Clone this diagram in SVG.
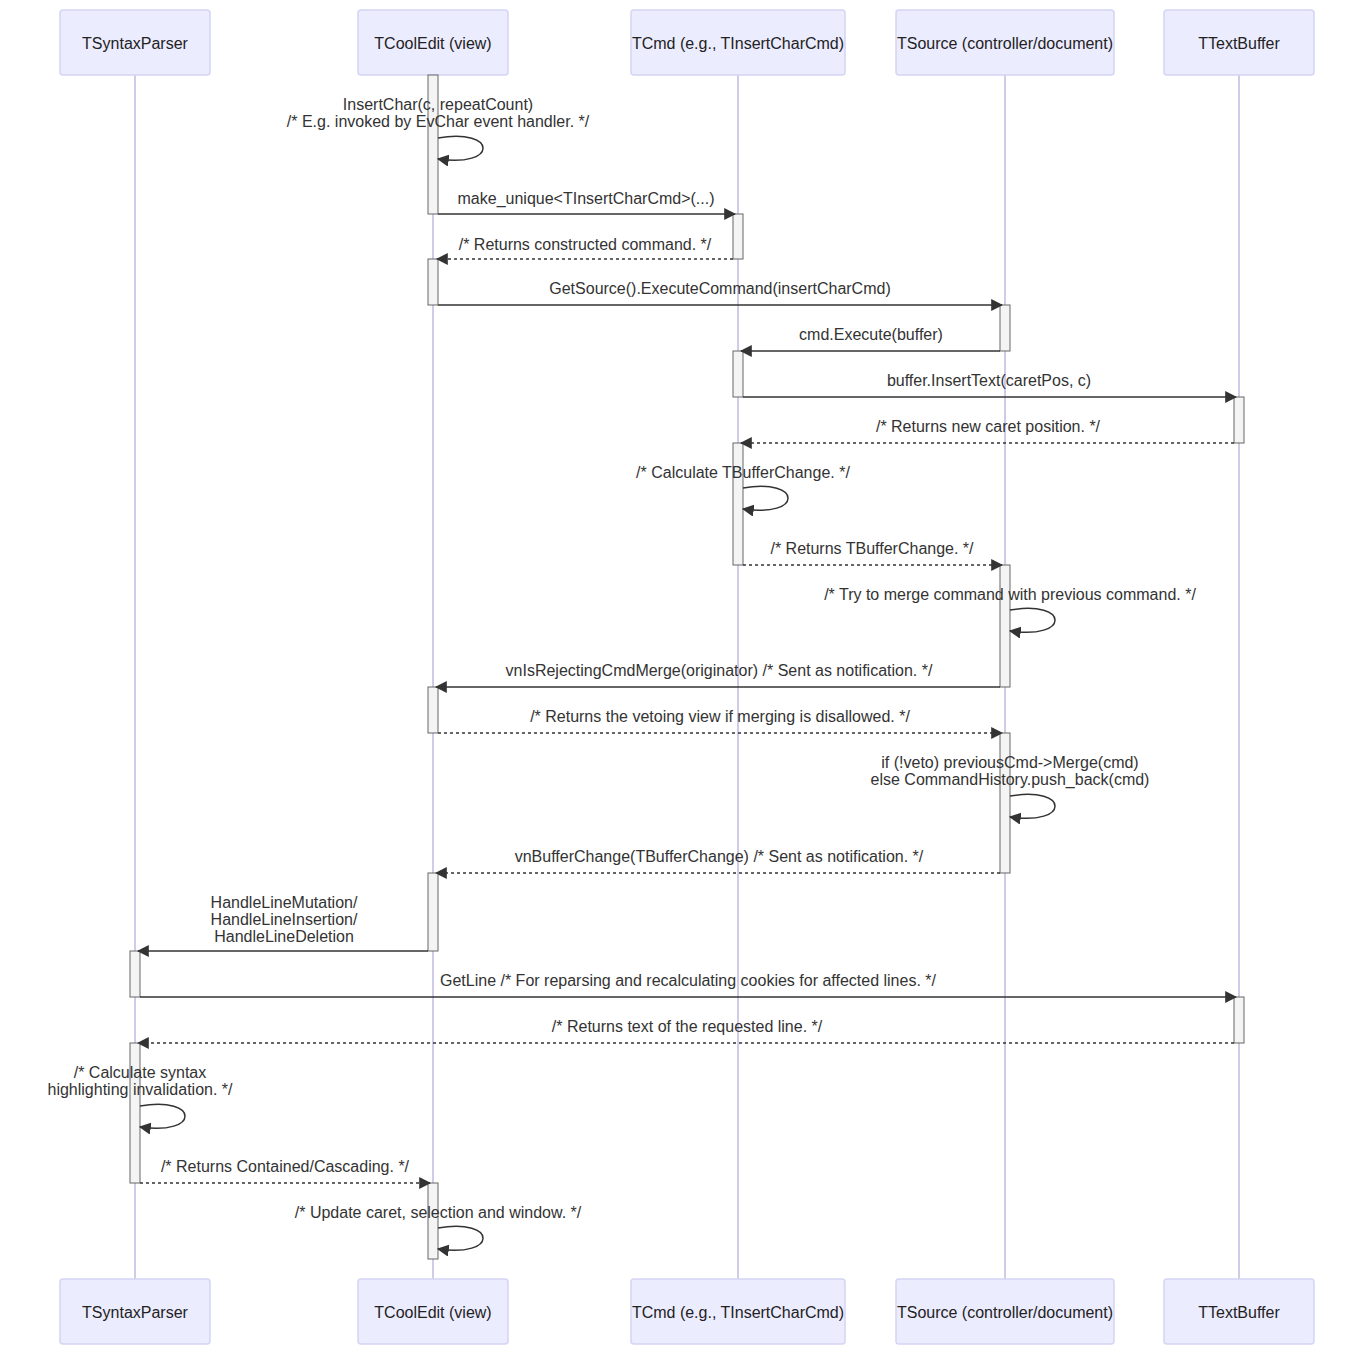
<svg xmlns="http://www.w3.org/2000/svg" width="1365" height="1355" viewBox="0 0 1365 1355">
<style>
.box{fill:#ECECFF;stroke:#D4D4F5;stroke-width:1.5}
.life{stroke:#D0CCE8;stroke-width:2}
.act{fill:#F4F4F4;stroke:#666;stroke-width:1}
.t{font-family:"Liberation Sans",Arial,sans-serif;font-size:16px;fill:#333;text-anchor:middle}
.nm{font-family:"Liberation Sans",Arial,sans-serif;font-size:16px;fill:#222;text-anchor:middle}
.m{stroke:#333;stroke-width:1.5;fill:none;marker-end:url(#ah)}
.d{stroke-dasharray:3,3}
</style>
<defs><marker id="ah" viewBox="0 0 10 10" refX="9" refY="5" markerWidth="8" markerHeight="8" orient="auto"><path d="M0,0L10,5L0,10z" fill="#333"/></marker></defs>
<rect width="1365" height="1355" fill="#fff"/>
<g id="lifelines">
<line class="life" x1="135" y1="75" x2="135" y2="1279"/>
<line class="life" x1="433" y1="75" x2="433" y2="1279"/>
<line class="life" x1="738" y1="75" x2="738" y2="1279"/>
<line class="life" x1="1005" y1="75" x2="1005" y2="1279"/>
<line class="life" x1="1239" y1="75" x2="1239" y2="1279"/>
</g>
<g id="TSyntaxParser"><rect class="box" x="60" y="10" width="150" height="65" rx="3"/><text class="nm" x="135" y="49">TSyntaxParser</text><rect class="box" x="60" y="1279" width="150" height="65" rx="3"/><text class="nm" x="135" y="1318">TSyntaxParser</text></g>
<g id="TCoolEdit"><rect class="box" x="358" y="10" width="150" height="65" rx="3"/><text class="nm" x="433" y="49">TCoolEdit (view)</text><rect class="box" x="358" y="1279" width="150" height="65" rx="3"/><text class="nm" x="433" y="1318">TCoolEdit (view)</text></g>
<g id="TCmd"><rect class="box" x="631" y="10" width="214" height="65" rx="3"/><text class="nm" x="738" y="49">TCmd (e.g., TInsertCharCmd)</text><rect class="box" x="631" y="1279" width="214" height="65" rx="3"/><text class="nm" x="738" y="1318">TCmd (e.g., TInsertCharCmd)</text></g>
<g id="TSource"><rect class="box" x="896" y="10" width="218" height="65" rx="3"/><text class="nm" x="1005" y="49">TSource (controller/document)</text><rect class="box" x="896" y="1279" width="218" height="65" rx="3"/><text class="nm" x="1005" y="1318">TSource (controller/document)</text></g>
<g id="TTextBuffer"><rect class="box" x="1164" y="10" width="150" height="65" rx="3"/><text class="nm" x="1239" y="49">TTextBuffer</text><rect class="box" x="1164" y="1279" width="150" height="65" rx="3"/><text class="nm" x="1239" y="1318">TTextBuffer</text></g>
<g id="activations">
<rect class="act" x="428" y="75" width="10" height="139"/>
<rect class="act" x="733" y="214" width="10" height="45"/>
<rect class="act" x="428" y="259" width="10" height="46"/>
<rect class="act" x="1000" y="305" width="10" height="46"/>
<rect class="act" x="733" y="351" width="10" height="46"/>
<rect class="act" x="1234" y="397" width="10" height="46"/>
<rect class="act" x="733" y="443" width="10" height="122"/>
<rect class="act" x="1000" y="565" width="10" height="122"/>
<rect class="act" x="428" y="687" width="10" height="46"/>
<rect class="act" x="1000" y="733" width="10" height="140"/>
<rect class="act" x="428" y="873" width="10" height="78"/>
<rect class="act" x="130" y="951" width="10" height="46"/>
<rect class="act" x="1234" y="997" width="10" height="46"/>
<rect class="act" x="130" y="1043" width="10" height="140"/>
<rect class="act" x="428" y="1183" width="10" height="76"/>
</g>
<g id="connectors">
<path class="m" d="M438,138 C498,128 498,168 438,159"/>
<line class="m" x1="438" y1="214" x2="735" y2="214"/>
<line class="m d" x1="733" y1="259" x2="437" y2="259"/>
<line class="m" x1="438" y1="305" x2="1002" y2="305"/>
<line class="m" x1="1000" y1="351" x2="741" y2="351"/>
<line class="m" x1="743" y1="397" x2="1236" y2="397"/>
<line class="m d" x1="1234" y1="443" x2="741" y2="443"/>
<path class="m" d="M743,488 C803,478 803,518 743,509"/>
<line class="m d" x1="743" y1="565" x2="1002" y2="565"/>
<path class="m" d="M1010,610 C1070,600 1070,640 1010,631"/>
<line class="m" x1="1000" y1="687" x2="436" y2="687"/>
<line class="m d" x1="438" y1="733" x2="1002" y2="733"/>
<path class="m" d="M1010,796 C1070,786 1070,826 1010,817"/>
<line class="m d" x1="1000" y1="873" x2="436" y2="873"/>
<line class="m" x1="428" y1="951" x2="138" y2="951"/>
<line class="m" x1="140" y1="997" x2="1236" y2="997"/>
<line class="m d" x1="1234" y1="1043" x2="138" y2="1043"/>
<path class="m" d="M140,1106 C200,1096 200,1136 140,1127"/>
<line class="m d" x1="140" y1="1183" x2="430" y2="1183"/>
<path class="m" d="M438,1228 C498,1218 498,1258 438,1249"/>
</g>
<g id="labels">
<text class="t" x="438" y="110">InsertChar(c, repeatCount)</text>
<text class="t" x="438" y="127">/* E.g. invoked by EvChar event handler. */</text>
<text class="t" x="586" y="204">make_unique&lt;TInsertCharCmd&gt;(...)</text>
<text class="t" x="585" y="250">/* Returns constructed command. */</text>
<text class="t" x="720" y="294">GetSource().ExecuteCommand(insertCharCmd)</text>
<text class="t" x="871" y="340">cmd.Execute(buffer)</text>
<text class="t" x="989" y="386">buffer.InsertText(caretPos, c)</text>
<text class="t" x="988" y="432">/* Returns new caret position. */</text>
<text class="t" x="743" y="478">/* Calculate TBufferChange. */</text>
<text class="t" x="872" y="554">/* Returns TBufferChange. */</text>
<text class="t" x="1010" y="600">/* Try to merge command with previous command. */</text>
<text class="t" x="719" y="676">vnIsRejectingCmdMerge(originator) /* Sent as notification. */</text>
<text class="t" x="720" y="722">/* Returns the vetoing view if merging is disallowed. */</text>
<text class="t" x="1010" y="768">if (!veto) previousCmd-&gt;Merge(cmd)</text>
<text class="t" x="1010" y="785">else CommandHistory.push_back(cmd)</text>
<text class="t" x="719" y="862">vnBufferChange(TBufferChange) /* Sent as notification. */</text>
<text class="t" x="284" y="908">HandleLineMutation/</text>
<text class="t" x="284" y="925">HandleLineInsertion/</text>
<text class="t" x="284" y="942">HandleLineDeletion</text>
<text class="t" x="688" y="986">GetLine /* For reparsing and recalculating cookies for affected lines. */</text>
<text class="t" x="687" y="1032">/* Returns text of the requested line. */</text>
<text class="t" x="140" y="1078">/* Calculate syntax</text>
<text class="t" x="140" y="1095">highlighting invalidation. */</text>
<text class="t" x="285" y="1172">/* Returns Contained/Cascading. */</text>
<text class="t" x="438" y="1218">/* Update caret, selection and window. */</text>
</g>
</svg>
